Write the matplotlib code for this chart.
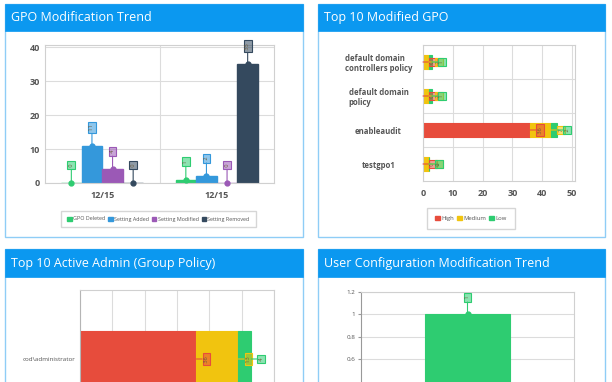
import matplotlib
matplotlib.use("Agg")
import matplotlib.pyplot as plt
import numpy as np
from matplotlib.patches import Rectangle, Patch
from matplotlib.colors import to_rgba

plt.rcParams["font.family"] = ["Open Sans", "DejaVu Sans"]

W, H = 612, 382
HEADER = "#0b98f0"
BORDER = "#8fcdf6"
GRID = "#dcdcdc"
TXT = "#555555"
GREEN, BLUE, PURPLE, DARK = "#2ecc71", "#3498db", "#9b59b6", "#34495e"
RED, YELLOW = "#e74c3c", "#f1c40f"

# GPO Modification Trend
dates = ["12/15", "12/15"]
gpo_deleted = [0, 1]
setting_added = [11, 2]
setting_modified = [4, 0]
setting_removed = [0, 35]

# Top 10 Modified GPO
gpos = ["default domain\ncontrollers policy", "default domain\npolicy", "enableaudit", "testgpo1"]
gpo_high = [0, 0, 36, 0]
gpo_medium = [2, 2, 7, 2]
gpo_low = [1, 1, 2, 0]

# Top 10 Active Admin
admins = ["cod\\administrator"]
admin_high = [36]
admin_medium = [13]
admin_low = [4]

# User Configuration Modification Trend
user_dates = ["12/15"]
user_mods = [1]


def frect(x0, y0, x1, y1):
    return [x0 / W, 1 - y1 / H, (x1 - x0) / W, (y1 - y0) / H]


def tag(ax, x, y, val, color, dx, dy, dot=True):
    # small value box with a leader line, text turned on its side
    ax.annotate(f" {val} ", xy=(x, y), xytext=(dx, dy), textcoords="offset pixels",
                ha="center", va="center", rotation=90, fontsize=4, color="#6b5a3a",
                bbox=dict(boxstyle="square,pad=0.25", fc=to_rgba(color, 0.55), ec=color, lw=0.8),
                arrowprops=dict(arrowstyle="-", color=color, lw=0.8, shrinkA=0, shrinkB=0),
                zorder=5, annotation_clip=False)
    if dot:
        ax.plot(x, y, "o", color=color, ms=3.5, zorder=6, clip_on=False)


def style(ax):
    for s in ax.spines.values():
        s.set_color("#d0d0d0")
        s.set_linewidth(0.8)
    ax.tick_params(length=0, colors=TXT)
    ax.set_axisbelow(True)


fig = plt.figure(figsize=(W / 100, H / 100), dpi=100)

panels = [(5, 4, 303, 237, 31, "GPO Modification Trend"),
          (318, 4, 605, 237, 31, "Top 10 Modified GPO"),
          (5, 249, 303, 420, 277, "Top 10 Active Admin (Group Policy)"),
          (318, 249, 605, 420, 277, "User Configuration Modification Trend")]
for x0, y0, x1, y1, yh, title in panels:
    fig.patches.append(Rectangle((x0 / W, 1 - y1 / H), (x1 - x0) / W, (y1 - y0) / H,
                                 transform=fig.transFigure, fill=False, ec=BORDER, lw=1))
    fig.patches.append(Rectangle((x0 / W, 1 - yh / H), (x1 - x0) / W, (yh - y0) / H,
                                 transform=fig.transFigure, fc=HEADER, ec=HEADER, lw=0.5))
    fig.text((x0 + 6) / W, 1 - (y0 + yh) / 2 / H, title, color="white", fontsize=9, va="center")

# panel 1
ax1 = fig.add_axes(frect(45, 45, 274, 183))
style(ax1)
x = np.arange(len(dates))
series = [(gpo_deleted, GREEN, "GPO Deleted"), (setting_added, BLUE, "Setting Added"),
          (setting_modified, PURPLE, "Setting Modified"), (setting_removed, DARK, "Setting Removed")]
w = 0.18
for i, (vals, col, lab) in enumerate(series):
    xs = x + (i - 1.5) * w
    ax1.bar(xs, vals, w, color=col, edgecolor=col, lw=1, zorder=2)
    for xi, v in zip(xs, vals):
        tag(ax1, xi, v, v, col, 0, 18)
ax1.set_xlim(-0.5, 1.5)
ax1.set_ylim(0, 40.6)
ax1.set_yticks([0, 10, 20, 30, 40])
ax1.set_xticks(x)
ax1.set_xticklabels(dates)
ax1.set_xticks([0.5], minor=True)
ax1.tick_params(which="minor", length=0)
ax1.grid(axis="y", color=GRID, lw=0.8)
ax1.grid(axis="x", which="minor", color=GRID, lw=0.8)
for t in ax1.get_xticklabels() + ax1.get_yticklabels():
    t.set_fontsize(6.5)
    t.set_fontweight("bold")
ax1.tick_params(axis="x", pad=6)
fig.legend([Patch(color=c) for _, c, _ in series], [l for _, _, l in series],
           loc="center", bbox_to_anchor=(158.5 / W, 1 - 219 / H), ncol=4, fontsize=3.9,
           frameon=True, fancybox=False, edgecolor="#cccccc", handlelength=0.8, handleheight=0.8,
           handletextpad=0.3, columnspacing=0.5, labelcolor=TXT, borderpad=1.1)

# panel 2
ax2 = fig.add_axes(frect(423, 45, 575, 181))
style(ax2)
y = np.arange(len(gpos))
h = 0.4
left = np.zeros(len(gpos))
for vals, col in [(gpo_high, RED), (gpo_medium, YELLOW), (gpo_low, GREEN)]:
    ax2.barh(y, vals, h, left=left, color=col, edgecolor=col, lw=0.8, zorder=2)
    left = left + np.array(vals)
    for yi, end, v in zip(y, left, vals):
        tag(ax2, end, yi, v, col, 10, 0, dot=False)
ax2.set_ylim(3.5, -0.5)
ax2.set_xlim(0, 51)
ax2.set_xticks([0, 10, 20, 30, 40, 50])
ax2.set_yticks(y)
ax2.set_yticklabels(gpos)
ax2.set_yticks([0.5, 1.5, 2.5], minor=True)
ax2.tick_params(which="minor", length=0)
ax2.grid(axis="x", color=GRID, lw=0.8)
ax2.grid(axis="y", which="minor", color=GRID, lw=0.8)
ax2.tick_params(axis="y", pad=32)
ax2.tick_params(axis="x", pad=6)
for t in ax2.get_yticklabels():
    t.set_ha("center")
    t.set_multialignment("left")
    t.set_fontsize(5.6)
    t.set_fontweight("bold")
for t in ax2.get_xticklabels():
    t.set_fontsize(6.5)
    t.set_fontweight("bold")
fig.legend([Patch(color=c) for c in (RED, YELLOW, GREEN)], ["High", "Medium", "Low"],
           loc="center", bbox_to_anchor=(471 / W, 1 - 218.5 / H), ncol=3, fontsize=4.2,
           frameon=True, fancybox=False, edgecolor="#cccccc", handlelength=0.8, handleheight=0.8,
           handletextpad=0.3, columnspacing=0.5, labelcolor=TXT, borderpad=1.3)

# panel 3
ax3 = fig.add_axes(frect(80, 290, 274, 428))
style(ax3)
ax3.spines["left"].set_color("#b5b5b5")
left = np.zeros(len(admins))
for vals, col in [(admin_high, RED), (admin_medium, YELLOW), (admin_low, GREEN)]:
    ax3.barh(np.arange(len(admins)), vals, 0.4, left=left, color=col, edgecolor=col, lw=0.8, zorder=2)
    left = left + np.array(vals)
    for yi, end, v in zip(np.arange(len(admins)), left, vals):
        tag(ax3, end, yi, v, col, 10, 0, dot=False)
ax3.set_xlim(0, 60)
ax3.set_ylim(0.5, -0.5)
ax3.set_xticks([0, 10, 20, 30, 40, 50, 60])
ax3.set_xticklabels([])
ax3.set_yticks([0])
ax3.set_yticklabels(admins, fontsize=4.5)
ax3.grid(axis="x", color=GRID, lw=0.8)

# panel 4
ax4 = fig.add_axes(frect(361, 292, 574, 426))
style(ax4)
ax4.spines["left"].set_color("#999999")
ax4.bar(np.arange(len(user_dates)), user_mods, 0.4, color=GREEN, edgecolor=GREEN, lw=0.8, zorder=2)
for xi, v in zip(np.arange(len(user_dates)), user_mods):
    tag(ax4, xi, v, v, GREEN, 0, 17)
ax4.set_xlim(-0.5, 0.5)
ax4.set_ylim(0, 1.2)
ax4.set_yticks([0.6, 0.8, 1, 1.2])
ax4.set_yticklabels(["0.6", "0.8", "1", "1.2"], fontsize=4.5)
ax4.set_yticks([0.4], minor=True)
ax4.tick_params(axis="y", length=2, color="#999999", pad=2)
ax4.tick_params(axis="y", which="minor", length=0)
ax4.set_xticks([])
ax4.grid(axis="y", color=GRID, lw=0.8)

fig.savefig("out.png", dpi=100, facecolor="white")
